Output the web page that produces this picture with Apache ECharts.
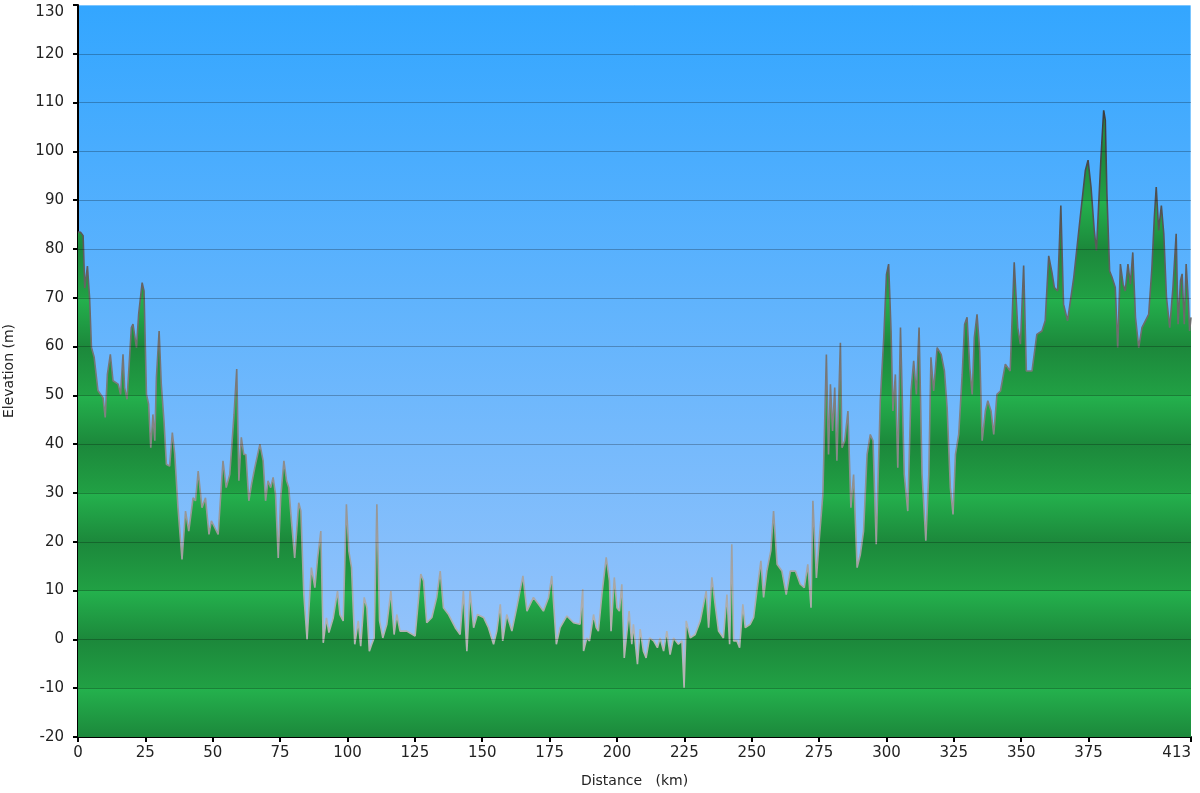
<!DOCTYPE html>
<html>
<head>
<meta charset="utf-8">
<title>Elevation profile</title>
<script src="https://cdn.jsdelivr.net/npm/echarts@6/dist/echarts.min.js"></script>
<style>
  html, body { margin: 0; padding: 0; background: #ffffff; }
  #main { width: 1200px; height: 793px; }
</style>
</head>
<body>
<div id="main"></div>
<script>
// distance along the route (km)
var distance = [
  0, 1, 1.9, 2.5, 3.5, 4.3, 5, 6, 7.4, 9.3, 10.1, 10.9, 12, 13, 14.9, 15.8, 16.7, 17.3, 18.2, 19.8,
  20.4, 21.7, 22.5, 23.8, 24.5, 25.4, 26.2, 27, 27.8, 28.5, 29.1, 30.1, 30.9, 31.9, 32.8, 34, 35, 35.9, 37.1, 38.6,
  39.9, 41.1, 42.7, 43.6, 44.6, 46, 47.3, 48.6, 49.5, 52, 53.8, 55, 56.3, 57.9, 58.9, 59.7, 60.6, 61.5, 62.3, 63.4,
  64.4, 65.6, 67.5, 68.7, 69.6, 70.5, 71.5, 72.4, 73.3, 74.3, 75.2, 76.4, 77.4, 78.2, 79.2, 80.4, 81.9, 82.7, 83.8, 85,
  86.6, 87.9, 88.9, 90.1, 91, 92.2, 93.1, 94.7, 96.3, 97.2, 98.4, 99.6, 100.5, 101.5, 102.7, 104, 104.9, 106.2, 107.2, 108.1,
  109, 109.9, 110.9, 111.9, 113.1, 114.6, 116.1, 117.3, 118.3, 119.5, 122, 125.1, 127.2, 128.2, 129.4, 131.3, 133.1, 134.4, 135.6, 137.5,
  140, 141.8, 143, 144.3, 145.5, 146.8, 148.2, 150.5, 152.3, 154.2, 155.4, 156.7, 157.6, 159.1, 161, 162.8, 165.1, 166.6, 169, 170.9,
  172.7, 174.6, 175.8, 177.5,
  178.9, 181.4, 183.9, 186.3, 187.3, 187.6, 188.8, 189.8, 191.3, 192.3,
  193.1, 194.4, 196, 197.2, 197.8, 199, 200, 200.9, 201.8, 202.7,
  203.6, 204.5, 205.5, 206.1, 207.6, 208.6, 209.8, 210.8, 212.1, 213.6,
  215, 216, 217.3, 218.5, 219.7, 221, 222.8, 224.1, 224.9, 225.7,
  227.2, 229, 230.9, 233.1, 234, 235.2, 236.4, 237.7, 239.5, 240.8,
  241.8, 242.6, 243.3, 244.5, 245.5, 246.7, 247.6, 249.4, 250.7, 251.9,
  253.4, 254.4, 255.6, 257.1,
  258.1, 259.4, 261.2, 262.8, 264.3, 266.2,
  268, 269.5, 270.8, 272, 272.7, 274, 275.2, 276.4, 277.7, 278.5, 279.2, 280, 280.8, 281.6, 282.9, 283.5, 284.5, 285.7, 286.8, 287.8,
  289.1, 290.3, 291.5, 292.8, 294, 295, 296.2, 297.7, 299, 300, 300.8, 301.7, 302.4, 303.3, 304.2, 305.2, 306.6, 307.9, 309.1, 310.1,
  311.1, 312.1, 313.2, 314.6, 315.7, 316.5, 317.5, 318.8, 320.3, 321.5, 322.5, 323.7, 324.7, 325.6, 326.8, 328.1, 329, 329.9, 330.9, 331.8,
  332.6, 333.6, 334.6, 335.5, 336.7, 337.6, 338.8, 339.8, 341, 342.3, 344.1, 345.9, 347.4, 348.7, 349.7, 350.9, 351.9, 354, 355.8, 357.7,
  358.9, 360.2, 361.4, 362.3, 363.5, 364.7, 365.7, 367.2, 369.5, 371.9, 373.8, 374.8, 375.9, 377.1, 377.9, 378.7, 379.6, 380.6, 381.2, 381.8,
  382.8, 383.7, 384.9, 385.8, 386.8, 387.8, 388.6, 389.6, 390.5, 391.4, 392.4, 393.6, 394.8, 397.3, 398.5, 399.4, 400.1, 401, 402, 402.9,
  403.9, 405.1, 406.3, 407.5, 408.2, 409.1, 409.7, 410.5, 411.2, 411.8, 412.5, 413
];

// elevation (m) at each distance
var elevation = [
  83.5, 83.4, 82.7, 72, 76.5, 70, 59.8, 57.8, 51, 49.5, 45.5, 54.3, 58.4, 53, 52.3, 50.2, 58.4, 51.6, 49.2, 63.9,
  64.6, 59.8, 66.6, 73.1, 71.4, 50.2, 48.2, 39.3, 46.1, 40.7, 53.7, 63.2, 52.3, 44.8, 35.9, 35.5, 42.4, 37.9, 27, 16.4,
  26.3, 22.2, 29, 28.4, 34.5, 27, 29, 21.5, 24.3, 21.5, 36.6, 31.1, 33.8, 46.1, 55.4, 32.5, 41.4, 37.9, 37.9, 28.4,
  31.8, 35.2, 40, 36.6, 28.4, 32.5, 31.1, 33.2, 29.7, 16.7, 29, 36.6, 32.5, 31.1, 24.3, 16.7, 28, 26.3, 9.2, 0,
  14.7, 10.6, 16.7, 22.2, -0.7, 4.4, 1.4, 4.4, 9.9, 5.1, 3.8, 27.7, 18.1, 14.7, -1, 3.8, -1.4, 8.6, 6.5, -2.4,
  -1, 0.3, 27.7, 3.8, 0.3, 3.1, 9.9, 1, 5.1, 1.7, 1.7, 0.7, 13.4, 12, 3.4, 4.5, 8.6, 14, 6.5, 5.1,
  2.4, 1, 9.9, -2.4, 9.9, 2.4, 5.1, 4.5, 2.4, -1, 1.7, 7.2, -0.3, 5.1, 1.7, 6.5, 13, 5.8, 8.6, 7.2,
  5.8, 8.6, 13, -1,
  2.4, 4.8, 3.4, 3.1, 10.3, -2.4, 0.3, -0.3, 5.1, 2.4,
  1.7, 9.2, 16.8, 12, 1.7, 12.7, 6.5, 5.8, 11.3, -3.8,
  1, 5.8, -1, 3.1, -5.1, 2.1, -2.4, -3.8, 0.3, -0.3,
  -1.7, 0.3, -2.4, 1.7, -3.1, 0.3, -1, -0.3, -9.9, 3.8,
  0.3, 1, 3.8, 9.9, 2.4, 12.7, 7.2, 1.7, 0.3, 9.2,
  -1, 19.5, -0.3, -0.3, -1.7, 7.2, 2.4, 3.1, 4.5, 9.9,
  16.1, 8.6, 14, 18.2,
  26.3, 15.4, 14, 9.2, 14, 14,
  11.3, 10.6, 15.4, 6.5, 28.4, 12.6, 21.5, 29.7, 58.4, 37.9, 52.3, 42.7, 51.6, 36.6, 60.8, 39.3, 40.7, 46.8, 27, 33.8,
  14.7, 17.4, 22.2, 37.9, 42, 40.7, 19.5, 48.9, 61.9, 74.8, 76.9, 63.2, 46.8, 54.3, 35.2, 63.9, 33.8, 26.3, 50.9, 57.1,
  50.2, 63.9, 33.8, 20.2, 33.8, 57.8, 50.9, 59.8, 58.4, 55, 47.5, 31.1, 25.6, 37.9, 42, 54.3, 64.6, 66, 55.7, 50.2,
  61.9, 66.6, 59.1, 40.7, 46.8, 48.9, 46.8, 42, 50.2, 50.9, 56.4, 55, 77.3, 63.9, 60.5, 76.6, 55, 55, 62.5, 63.2,
  65.3, 78.6, 75.2, 72.1, 71.4, 88.9, 68.7, 65.3, 74.2, 86.5, 96.1, 98.2, 92.7, 83.8, 79.7, 88.6, 98.8, 108.4, 106.4, 91.3,
  75.5, 74.2, 72.1, 59.8, 76.9, 72.8, 71.4, 76.9, 72.8, 79.3, 66, 59.8, 63.9, 66.6, 76.2, 86.5, 92.7, 83.8, 88.9, 83.1,
  70.1, 63.9, 72.1, 83.1, 64.6, 73.5, 74.9, 64.6, 76.9, 71.4, 63.2, 66
];

var xTicks = [0, 25, 50, 75, 100, 125, 150, 175, 200, 225, 250, 275, 300, 325, 350, 375, 413];
var yTicks = [-10, 0, 10, 20, 30, 40, 50, 60, 70, 80, 90, 100, 110, 120];

var myChart = echarts.init(document.getElementById('main'));

var plotTop = 5, plotBottom = 737, yMin = -20, yMax = 130;
function yPix(v) {
    return plotBottom - (v - yMin) / (yMax - yMin) * (plotBottom - plotTop);
}

// green bands: bright just under every odd ten, darkest at every even ten
var greenStops = [];
for (var v = yMax; v >= yMin; v -= 10) {
    var off = (yPix(v) - plotTop) / (plotBottom - plotTop);
    if (Math.abs(v / 10) % 2 === 1) {
        greenStops.push({ offset: Math.max(0, off - 0.001), color: '#21a044' });
        greenStops.push({ offset: Math.min(1, off + 0.001), color: '#24b14d' });
    } else {
        greenStops.push({ offset: off, color: '#1c883b' });
    }
}

var points = distance.map(function (d, i) { return [d, elevation[i]]; });

myChart.setOption({
    animation: false,
    grid: {
        left: 78,
        right: 9,
        top: plotTop,
        bottom: 793 - plotBottom,
        containLabel: false,
        outerBoundsMode: 'none',
        show: true,
        borderWidth: 1,
        borderColor: 'rgba(255,255,255,0.7)',
        backgroundColor: new echarts.graphic.LinearGradient(0, 0, 0, 1, [
            { offset: 0, color: '#33a6ff' },
            { offset: 1, color: '#a2c7fa' }
        ])
    },
    xAxis: {
        type: 'value',
        min: 0,
        max: 413,
        name: 'Distance   (km)',
        nameLocation: 'middle',
        nameGap: 37,
        nameTextStyle: { fontFamily: 'DejaVu Sans', fontSize: 14, color: '#222' },
        axisLine: { onZero: false, lineStyle: { color: '#000', width: 2 } },
        axisTick: { length: 5, lineStyle: { color: '#000', width: 2 }, customValues: xTicks },
        axisLabel: {
            margin: 9, fontFamily: 'DejaVu Sans', fontSize: 15, color: '#222',
            customValues: xTicks, alignMaxLabel: 'right'
        },
        splitLine: { show: false }
    },
    yAxis: {
        type: 'value',
        min: yMin,
        max: yMax,
        interval: 10,
        name: 'Elevation (m)',
        nameLocation: 'middle',
        nameGap: 62,
        nameTextStyle: { fontFamily: 'DejaVu Sans', fontSize: 14, color: '#222' },
        axisLine: { show: true, onZero: false, lineStyle: { color: '#000', width: 2 } },
        axisTick: { show: true, length: 5, lineStyle: { color: '#000', width: 2 } },
        axisLabel: {
            margin: 14, fontFamily: 'DejaVu Sans', fontSize: 15, color: '#222',
            verticalAlignMaxLabel: 'top'
        },
        splitLine: { show: false }
    },
    series: [
        {
            type: 'line',
            data: points,
            showSymbol: false,
            smooth: false,
            lineStyle: {
                width: 1.6,
                color: {
                    type: 'linear', x: 0, y: yPix(110), x2: 0, y2: yPix(0), global: true,
                    colorStops: [
                        { offset: 0, color: '#3a3a3a' },
                        { offset: 1, color: '#b4b4b4' }
                    ]
                }
            },
            areaStyle: {
                origin: 'start',
                opacity: 1,
                color: {
                    type: 'linear', x: 0, y: plotTop, x2: 0, y2: plotBottom, global: true,
                    colorStops: greenStops
                }
            },
            markLine: {
                silent: true,
                symbol: 'none',
                label: { show: false },
                lineStyle: { color: 'rgba(0,0,0,0.25)', width: 1, type: 'solid' },
                data: yTicks.map(function (t) { return { yAxis: t }; })
            }
        }
    ]
});
</script>
</body>
</html>
